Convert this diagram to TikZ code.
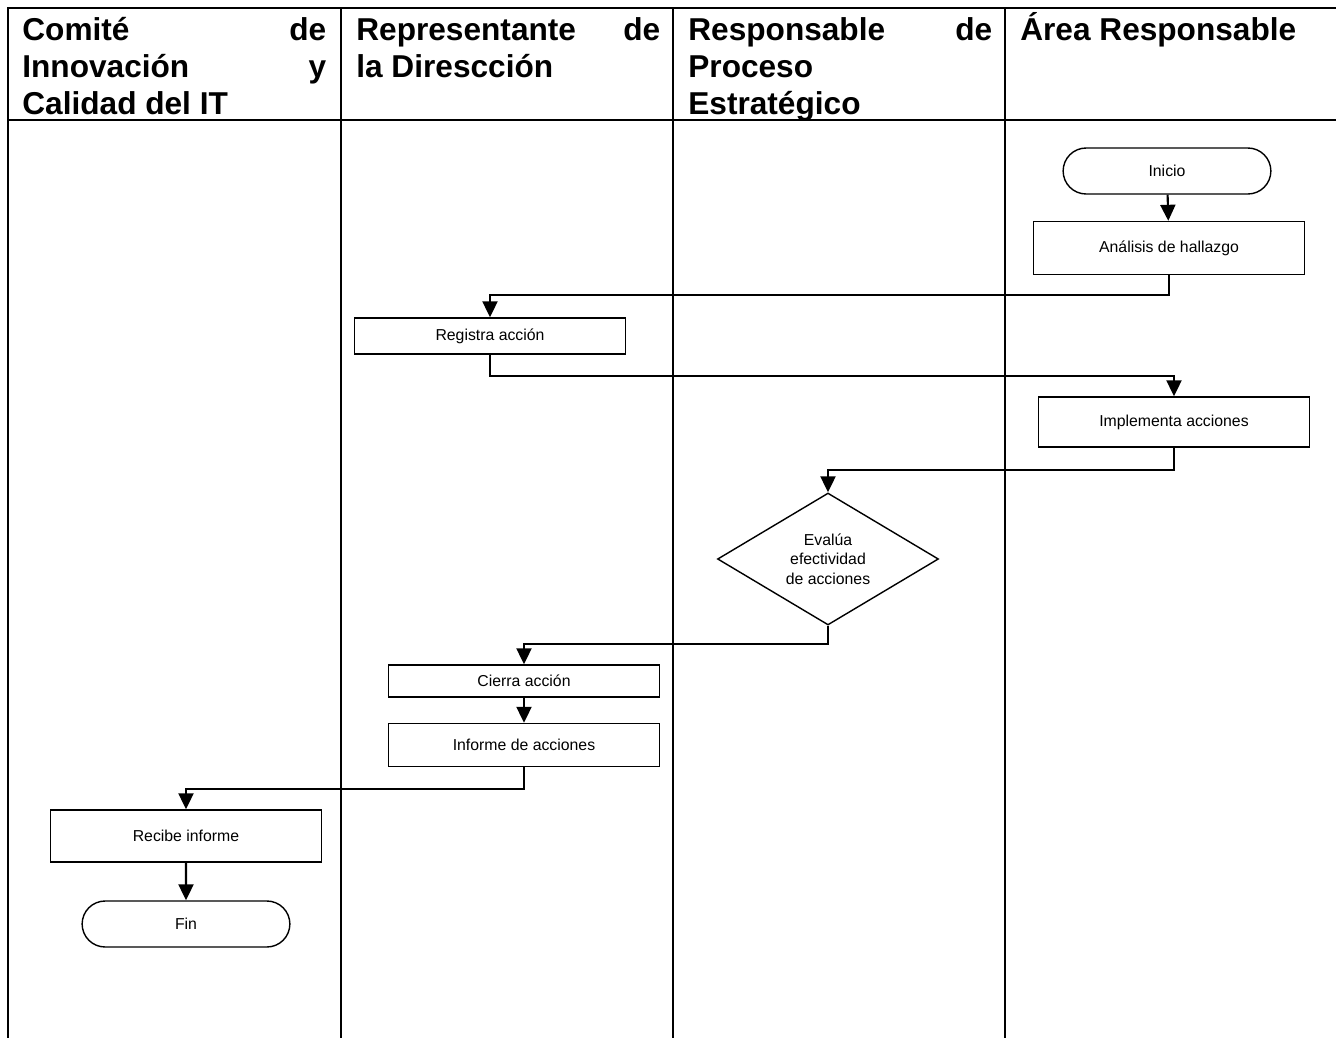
\documentclass[tikz,border=0pt]{standalone}
\usepackage{fontspec}
\setmainfont{Liberation Sans}
\usepackage{tikz}
\usetikzlibrary{
  arrows.meta,
  positioning,
  shapes.geometric,
  shapes.misc
}

\begin{document}
\begin{tikzpicture}[
    x=0.02cm,y=-0.02cm,
    caja/.style={
    draw,
    line width=0.8pt,
    minimum width=5.42cm,
    align=center,
    font=\fontsize{9}{10.5}\selectfont
    },
    terminal/.style={
    draw,
    rounded rectangle,
    line width=0.8pt,
    minimum width=4.39cm,
    minimum height=0.92cm,
    font=\fontsize{9}{10.5}\selectfont
    },
    decision/.style={
    draw,
    diamond,
    aspect=1.67,
    inner sep=0pt,
    line width=0.8pt,
    minimum width=4.42cm,
    minimum height=2.64cm,
    align=center,
    font=\fontsize{9}{11}\selectfont
    },
    titulo/.style={
    anchor=north west,
    inner sep=0pt,
    text width=6.08cm,
    align=justify,
    font=\bfseries\fontsize{18}{21}\selectfont
    },
    marco/.style={line width=1.1pt},
    flecha/.style={-{Triangle[length=0.32cm,width=0.3cm]},line width=1.2pt}
    ]
    
    \useasboundingbox (0,0) rectangle (1336,1038);
    
    % columnas
    \draw[marco] (1336,8) -- (8,8) -- (8,1038);
    \draw[marco] (8,120) -- (1336,120);
    \foreach \x in {341,673,1005}
    \draw[marco] (\x,8) -- (\x,1038);
    
    % encabezados
    \node[titulo] (comite) at (22,10)
    {\rule{0pt}{17pt}Comité de\linebreak Innovación y\linebreak Calidad del IT};
    \node[titulo] (representante) at (356,10)
    {\rule{0pt}{17pt}Representante de\linebreak la Direscción};
    \node[titulo] (responsable) at (688,10)
    {\rule{0pt}{17pt}Responsable de\linebreak Proceso\\Estratégico};
    \node[titulo] (area) at (1020,10)
    {\rule{0pt}{17pt}Área Responsable};
    
    \node[terminal] (inicio) at (1167,171)
    {Inicio};
    
    \node[caja,minimum height=1.06cm] (analisis) at (1169,248)
    {Análisis de hallazgo};
    
    \node[caja,minimum height=0.72cm] (registra) at (490,336)
    {Registra acción};
    
    \node[caja,minimum height=1cm] (implementa) at (1174,422)
    {Implementa acciones};
    
    \node[decision] (evalua) at (828,559)
    {Evalúa\\efectividad\\de acciones};
    
    \node[caja,minimum height=0.64cm] (cierra) at (524,681)
    {Cierra acción};
    
    \node[caja,minimum height=0.86cm] (informe) at (524,745)
    {Informe de acciones};
    
    \node[caja,minimum height=1.04cm] (recibe) at (186,836)
    {Recibe informe};
    
    \node[terminal] (fin) at (186,924)
    {Fin};
    
    \draw[flecha](inicio)--(analisis);
    \draw[flecha](analisis.south)--++(0,20)-|(registra.north);
    \draw[flecha](registra.south)--++(0,21)-|(implementa.north);
    \draw[flecha](implementa.south)--++(0,22)-|(evalua.north);
    \draw[flecha](evalua.south)--++(0,18)-|(cierra.north);
    \draw[flecha](cierra)--(informe);
    \draw[flecha](informe.south)--++(0,22)-|(recibe.north);
    \draw[flecha](recibe)--(fin);
    
\end{tikzpicture}
\end{document}
